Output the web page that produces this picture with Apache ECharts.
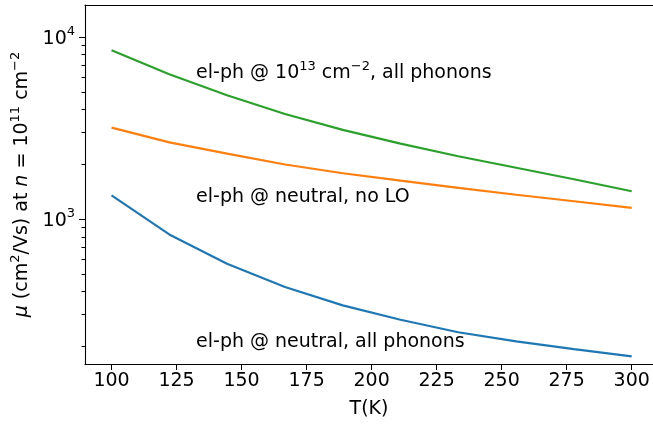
<!DOCTYPE html>
<html lang="en">
<head>
<meta charset="UTF-8">
<title>mobility vs T</title>
<script src="https://cdn.jsdelivr.net/npm/echarts@6/dist/echarts.min.js"></script>
</head>
<body style="margin:0;background:#fff;">
<div id="chart" style="width:653px;height:427px;"></div>
<script>
// data
var temps = [100, 122.2, 144.4, 166.7, 188.9, 211.1, 233.3, 255.6, 277.8, 300];
var muAllPhonons = [1351, 824, 568, 424, 336, 280, 239, 213, 193, 176];
var muNoLO = [3181, 2640, 2287, 1995, 1786, 1626, 1486, 1361, 1253, 1154];
var muDoped = [8470, 6250, 4790, 3780, 3090, 2600, 2215, 1915, 1655, 1423];

var xTicks = [100, 125, 150, 175, 200, 225, 250, 275, 300];
var yMajor = [1000, 10000];
var yMinor = [200, 300, 400, 500, 600, 700, 800, 900, 2000, 3000, 4000, 5000, 6000, 7000, 8000, 9000];

var noteX = [132.5, 132.5, 132.5];
var noteY = [5930, 1241, 198];
var noteText = [
    '{n|el-ph @ 10}{sup|13}{n| cm}{sup|\u22122}{n|, all phonons}',
    '{n|el-ph @ neutral, no LO}',
    '{n|el-ph @ neutral, all phonons}'
];

var font = 'DejaVu Sans';
var fs = 19;
var rich = {
    n: { fontFamily: font, fontSize: fs, color: '#000', verticalAlign: 'bottom' },
    i: { fontFamily: font, fontSize: fs, color: '#000', fontStyle: 'italic', verticalAlign: 'bottom' },
    sup: { fontFamily: font, fontSize: 13, color: '#000', verticalAlign: 'bottom', padding: [0, 0, 10, 0] }
};

function pairs(ys) {
    return temps.map(function (t, i) { return [t, ys[i]]; });
}

var chart = echarts.init(document.getElementById('chart'));

var option = {
    animation: false,
    grid: { left: 85, top: 5, right: 0, height: 359 },
    xAxis: [{
        type: 'value', min: 89.8, max: 308.2,
        name: 'T(K)', nameLocation: 'middle', nameGap: 36,
        nameTextStyle: { fontFamily: font, fontSize: fs, color: '#000' },
        axisLine: { lineStyle: { color: '#000', width: 1.1 } },
        axisTick: { length: 6, lineStyle: { color: '#000' }, customValues: xTicks },
        axisLabel: { fontFamily: font, fontSize: fs, color: '#000', margin: 8, customValues: xTicks },
        splitLine: { show: false }
    }, {
        // top spine
        type: 'value', min: 89.8, max: 308.2, position: 'top',
        axisLine: { onZero: false, lineStyle: { color: '#000', width: 1.1 } },
        axisTick: { show: false }, axisLabel: { show: false }, splitLine: { show: false }
    }],
    yAxis: [{
        type: 'log', logBase: 10, min: 160, max: 15000,
        name: '{i|\u03bc}{n| (cm}{sup|2}{n|/Vs) at }{i|n}{n| = 10}{sup|11}{n| cm}{sup|\u22122}',
        nameLocation: 'middle', nameGap: 45, nameRotate: 90,
        nameTextStyle: { rich: rich },
        axisLine: { lineStyle: { color: '#000', width: 1.1 } },
        axisTick: { length: 6, lineStyle: { color: '#000' }, customValues: yMajor },
        axisLabel: {
            margin: 10, customValues: yMajor, rich: rich,
            formatter: function (v) { return '{n|10}{sup|' + Math.round(Math.log10(v)) + '}'; }
        },
        splitLine: { show: false }
    }, {
        type: 'log', logBase: 10, min: 160, max: 15000, position: 'left',
        axisLine: { show: false },
        axisTick: { length: 3.5, lineStyle: { color: '#000' }, customValues: yMinor },
        axisLabel: { show: false },
        splitLine: { show: false }
    }],
    series: [
        { type: 'line', data: pairs(muAllPhonons), symbol: 'none', lineStyle: { color: '#1f77b4', width: 2.2 } },
        { type: 'line', data: pairs(muNoLO), symbol: 'none', lineStyle: { color: '#ff7f0e', width: 2.2 } },
        { type: 'line', data: pairs(muDoped), symbol: 'none', lineStyle: { color: '#2ca02c', width: 2.2 } }
    ]
};
chart.setOption(option);

// annotations placed in data coordinates
var notes = noteText.map(function (txt, i) {
    var p = chart.convertToPixel({ xAxisIndex: 0, yAxisIndex: 0 }, [noteX[i], noteY[i]]);
    return {
        type: 'text', x: p[0], y: p[1] + 4.5,
        style: { text: txt, rich: rich, align: 'left', verticalAlign: 'bottom' }
    };
});
chart.setOption({ graphic: notes });
</script>
</body>
</html>
